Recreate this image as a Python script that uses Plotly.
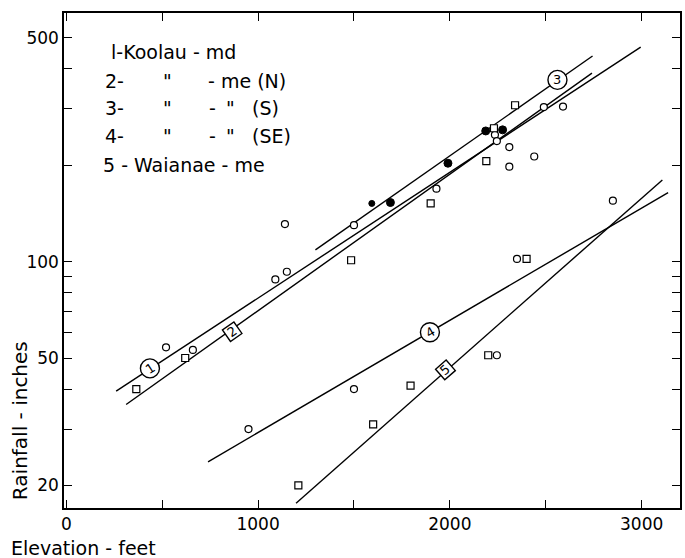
import math
import plotly.graph_objects as go

# ---------------- data ----------------
open_circle_x = [520, 660, 1090, 1150, 1140, 1500, 950, 1500, 1930, 2235, 2245, 2310, 2310, 2440, 2490, 2590, 2850, 2350, 2245]
open_circle_y = [54, 53, 88, 93, 131, 130, 30, 40, 169, 249, 238, 228, 198, 213, 304, 305, 155, 102, 51]

square_x = [620, 365, 1485, 1600, 1900, 2190, 2230, 2340, 2400, 1795, 2200, 1210]
square_y = [50, 40, 101, 31, 152, 206, 261, 308, 102, 41, 51, 20]

filled_x = [1690, 1990, 2187, 2275]
filled_y = [153, 203, 256, 258]

half_x = [1593]
half_y = [152]

# regression lines (end points)
line_names = ["1", "2", "3", "4", "5"]
line_x = [[260, 2995], [312, 2741], [1299, 2744], [739, 3138], [1198, 3108]]
line_y = [[39.4, 467.8], [35.8, 388], [108.8, 439], [23.7, 164.3], [17.6, 180]]

# line labels
label_text = ["1", "2", "3", "4", "5"]
label_x = [436, 865, 2561, 1896, 1977]
label_y = [46.4, 60.4, 369.6, 60.2, 45.9]
label_shape = ["circle", "square", "circle", "circle", "square"]
label_rot = [-33, -35, 0, -30, -41]

x_tickvals = [0, 500, 1000, 1500, 2000, 2500, 3000]
x_ticktext = ["0", "", "1000", "", "2000", "", "3000"]
y_tickvals = [20, 30, 40, 50, 60, 70, 80, 90, 100, 200, 300, 400, 500]
y_ticktext = ["20", "", "", "50", "", "", "", "", "100", "", "", "", "500"]

FONT = "DejaVu Sans"
W, H = 685, 558
ML, MR, MT, MB = 64, 3, 13, 50
PW = W - ML - MR
PH = H - MT - MB


def px(x):
    return (x - ML) / PW


def py(y):
    return (H - MB - y) / PH


fig = go.Figure()

for lx, ly in zip(line_x, line_y):
    fig.add_trace(go.Scatter(x=lx, y=ly, mode="lines",
                             line=dict(color="black", width=1.4),
                             hoverinfo="skip", showlegend=False))

fig.add_trace(go.Scatter(x=open_circle_x, y=open_circle_y, mode="markers",
                         marker=dict(symbol="circle", size=7, color="white",
                                     line=dict(color="black", width=1.2)),
                         showlegend=False))
fig.add_trace(go.Scatter(x=square_x, y=square_y, mode="markers",
                         marker=dict(symbol="square", size=7, color="white",
                                     line=dict(color="black", width=1.2)),
                         showlegend=False))
fig.add_trace(go.Scatter(x=filled_x, y=filled_y, mode="markers",
                         marker=dict(symbol="circle", size=8, color="black",
                                     line=dict(color="black", width=1)),
                         showlegend=False))
fig.add_trace(go.Scatter(x=half_x, y=half_y, mode="markers",
                         marker=dict(symbol="circle", size=6, color="black",
                                     line=dict(color="black", width=1)),
                         showlegend=False))

# line labels (circles / tilted squares)
for t, x, y, s, r in zip(label_text, label_x, label_y, label_shape, label_rot):
    fig.add_trace(go.Scatter(x=[x], y=[y], mode="markers",
                             marker=dict(symbol=s, size=19 if s == "circle" else 14,
                                         angle=r, color="white",
                                         line=dict(color="black", width=1.4)),
                             showlegend=False, hoverinfo="skip"))
    fig.add_annotation(x=x, y=math.log10(y), text=t, showarrow=False,
                       textangle=r, font=dict(family=FONT, size=13, color="black"))

# legend text block
legend_rows = [
    (52, [(109, "l-Koolau - md")]),
    (81, [(103, "2-"), (161, "\""), (206, "- me (N)")]),
    (108, [(103, "3-"), (161, "\""), (207, "-"), (225, "\""), (251, "(S)")]),
    (136, [(103, "4-"), (161, "\""), (207, "-"), (225, "\""), (251, "(SE)")]),
    (165, [(101, "5 - Waianae - me")]),
]
for ypix, pieces in legend_rows:
    for xpix, txt in pieces:
        fig.add_annotation(xref="paper", yref="paper", x=px(xpix), y=py(ypix),
                           xanchor="left", yanchor="middle", text=txt,
                           showarrow=False,
                           font=dict(family=FONT, size=19, color="black"))

# axis titles
fig.add_annotation(xref="paper", yref="paper", x=px(20), y=py(421),
                   text="Rainfall - inches", textangle=-90, showarrow=False,
                   xanchor="center", yanchor="middle",
                   font=dict(family=FONT, size=20, color="black"))
fig.add_annotation(xref="paper", yref="paper", x=px(9), y=py(548),
                   text="Elevation - feet", showarrow=False,
                   xanchor="left", yanchor="middle",
                   font=dict(family=FONT, size=19, color="black"))

axis_common = dict(showline=True, linecolor="black", linewidth=1.5,
                   mirror="ticks", ticks="inside", ticklen=8, tickwidth=1.3,
                   tickcolor="black", showgrid=False, zeroline=False,
                   tickfont=dict(family=FONT, size=17, color="black"))

fig.update_layout(
    width=W, height=H,
    margin=dict(l=ML, r=MR, t=MT, b=MB),
    paper_bgcolor="white", plot_bgcolor="white",
    xaxis=dict(range=[-12, 3200], tickmode="array", tickvals=x_tickvals,
               ticktext=x_ticktext, **axis_common),
    yaxis=dict(type="log", range=[math.log10(17.0), math.log10(598)],
               tickmode="array", tickvals=y_tickvals, ticktext=y_ticktext,
               **axis_common),
)

fig.write_html("out.html")
